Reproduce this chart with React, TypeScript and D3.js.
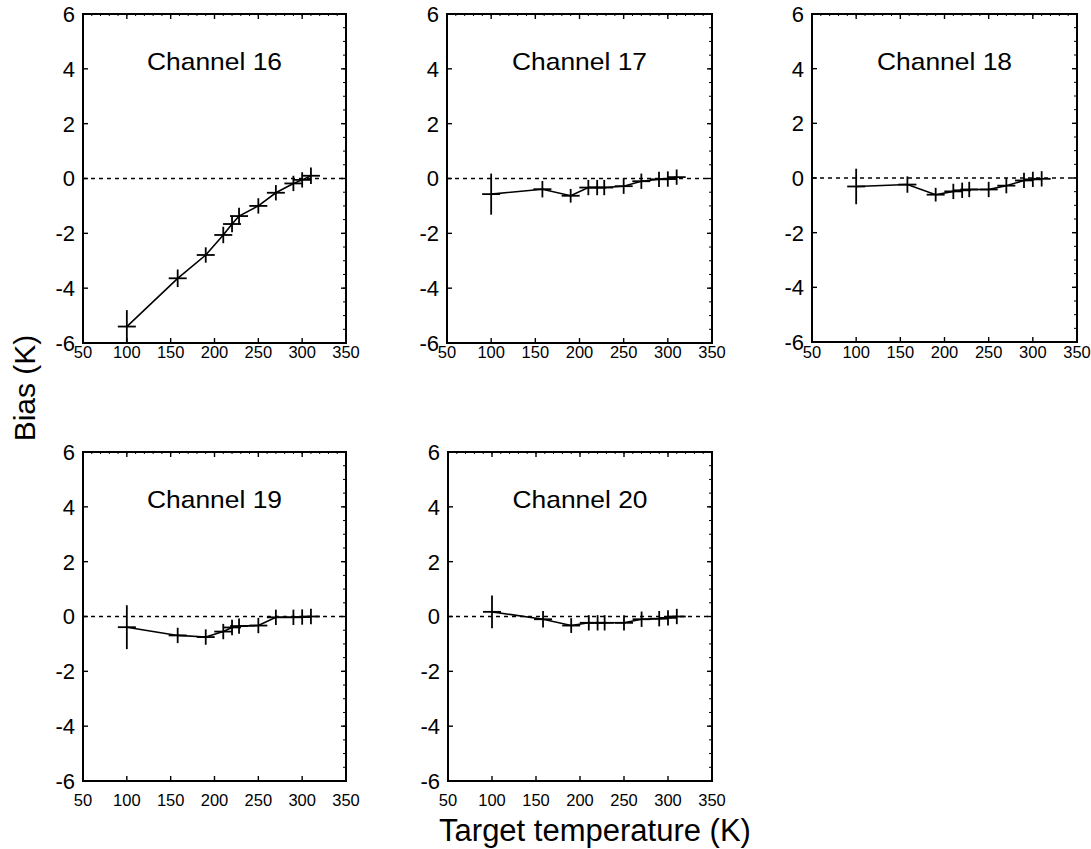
import React from "react";
import * as d3 from "d3";

// ---------- data ----------
const TEMPS = [100, 158, 190, 210, 220, 228, 250, 270, 290, 300, 310];
const CHANNELS = ["Channel 16", "Channel 17", "Channel 18", "Channel 19", "Channel 20"];
const BIAS_16 = [-5.4, -3.64, -2.79, -2.06, -1.66, -1.37, -1.0, -0.52, -0.18, -0.05, 0.1];
const ERR_16 = [0.6, 0.32, 0.28, 0.3, 0.3, 0.3, 0.28, 0.28, 0.28, 0.28, 0.3];
const BIAS_17 = [-0.57, -0.39, -0.63, -0.33, -0.33, -0.33, -0.28, -0.1, -0.03, -0.02, 0.05];
const ERR_17 = [0.75, 0.3, 0.25, 0.28, 0.28, 0.28, 0.28, 0.28, 0.28, 0.28, 0.28];
const BIAS_18 = [-0.31, -0.24, -0.61, -0.49, -0.45, -0.42, -0.42, -0.28, -0.09, -0.05, -0.03];
const ERR_18 = [0.65, 0.3, 0.25, 0.28, 0.28, 0.28, 0.28, 0.28, 0.28, 0.28, 0.28];
const BIAS_19 = [-0.39, -0.69, -0.75, -0.55, -0.4, -0.35, -0.33, -0.03, -0.03, -0.02, 0.0];
const ERR_19 = [0.8, 0.28, 0.28, 0.28, 0.28, 0.28, 0.28, 0.28, 0.28, 0.28, 0.28];
const BIAS_20 = [0.17, -0.1, -0.33, -0.23, -0.23, -0.23, -0.23, -0.1, -0.08, -0.05, 0.0];
const ERR_20 = [0.6, 0.3, 0.27, 0.28, 0.28, 0.28, 0.28, 0.28, 0.28, 0.28, 0.28];
const X_TICKS = [50, 100, 150, 200, 250, 300, 350];
const Y_TICKS = [-6, -4, -2, 0, 2, 4, 6];
const X_DOMAIN = [50, 350];
const Y_DOMAIN = [-6, 6];
const Y_LABEL = "Bias (K)";
const X_LABEL = "Target temperature (K)";

const SERIES = [
  { bias: BIAS_16, err: ERR_16 },
  { bias: BIAS_17, err: ERR_17 },
  { bias: BIAS_18, err: ERR_18 },
  { bias: BIAS_19, err: ERR_19 },
  { bias: BIAS_20, err: ERR_20 },
];

// ---------- layout ----------
const PANELS = [
  { x0: 83, x1: 346, y0: 14, y1: 343, tickLabelY: 358 },
  { x0: 447, x1: 712, y0: 14, y1: 343, tickLabelY: 358 },
  { x0: 812, x1: 1077, y0: 14, y1: 342, tickLabelY: 358 },
  { x0: 83, x1: 346, y0: 452, y1: 781, tickLabelY: 806 },
  { x0: 448, x1: 712, y0: 452, y1: 781, tickLabelY: 806 },
];
const FONT = "'Liberation Sans', Arial, Helvetica, sans-serif";
const CROSS_HALF = 9;

function Panel({ idx }: { idx: number }) {
  const p = PANELS[idx];
  const s = SERIES[idx];
  const x = d3.scaleLinear().domain(X_DOMAIN).range([p.x0, p.x1]);
  const y = d3.scaleLinear().domain(Y_DOMAIN).range([p.y1, p.y0]);
  const pts = TEMPS.map((t, i) => ({ t, b: s.bias[i], e: s.err[i] }));
  const line = d3
    .line<{ t: number; b: number }>()
    .x((d) => x(d.t))
    .y((d) => y(d.b));
  const clipId = `clip-${idx}`;
  const minorX = d3.range(X_DOMAIN[0], X_DOMAIN[1] + 0.001, 10);
  const minorY = d3.range(Y_DOMAIN[0], Y_DOMAIN[1] + 0.001, 0.5);
  const cx = (p.x0 + p.x1) / 2;
  const ty = p.y0 + 56;
  return (
    <g>
      <defs>
        <clipPath id={clipId}>
          <rect x={p.x0} y={p.y0} width={p.x1 - p.x0} height={p.y1 - p.y0} />
        </clipPath>
      </defs>
      {/* zero line */}
      <line
        x1={x(X_DOMAIN[0])}
        x2={x(X_DOMAIN[1])}
        y1={y(0)}
        y2={y(0)}
        stroke="#000"
        strokeWidth={1.4}
        strokeDasharray="4,4"
      />
      <g clipPath={`url(#${clipId})`}>
        <path d={line(pts) || ""} fill="none" stroke="#000" strokeWidth={1.6} />
        {pts.map((d, i) => (
          <g key={i} stroke="#000" strokeWidth={1.8}>
            <line x1={x(d.t) - CROSS_HALF} x2={x(d.t) + CROSS_HALF} y1={y(d.b)} y2={y(d.b)} />
            <line x1={x(d.t)} x2={x(d.t)} y1={y(d.b - d.e)} y2={y(d.b + d.e)} />
          </g>
        ))}
      </g>
      {/* minor ticks */}
      {minorX.map((v) => (
        <line key={"mx" + v} x1={x(v)} x2={x(v)} y1={p.y0} y2={p.y0 + 2} stroke="#000" strokeWidth={1} />
      ))}
      {minorY.map((v) => (
        <line key={"my" + v} x1={p.x1} x2={p.x1 - 3} y1={y(v)} y2={y(v)} stroke="#000" strokeWidth={1} />
      ))}
      {/* major ticks */}
      {X_TICKS.map((v) => (
        <g key={"xt" + v}>
          <line x1={x(v)} x2={x(v)} y1={p.y1} y2={p.y1 - 5} stroke="#000" strokeWidth={1.4} />
          <line x1={x(v)} x2={x(v)} y1={p.y0} y2={p.y0 + 5} stroke="#000" strokeWidth={1.4} />
          <text
            x={x(v)}
            y={p.tickLabelY}
            textAnchor="middle"
            fontFamily={FONT}
            fontSize={16.5}
            fill="#000"
          >
            {v}
          </text>
        </g>
      ))}
      {Y_TICKS.map((v) => (
        <g key={"yt" + v}>
          <line x1={p.x0} x2={p.x0 + 5} y1={y(v)} y2={y(v)} stroke="#000" strokeWidth={1.4} />
          <line x1={p.x1} x2={p.x1 - 5} y1={y(v)} y2={y(v)} stroke="#000" strokeWidth={1.4} />
          <text
            x={p.x0 - 8}
            y={y(v)}
            dy="0.36em"
            textAnchor="end"
            fontFamily={FONT}
            fontSize={22}
            fill="#000"
          >
            {v}
          </text>
        </g>
      ))}
      {/* frame */}
      <rect
        x={p.x0}
        y={p.y0}
        width={p.x1 - p.x0}
        height={p.y1 - p.y0}
        fill="none"
        stroke="#000"
        strokeWidth={2}
      />
      <text
        transform={`translate(${cx},${ty}) scale(1.1,1)`}
        textAnchor="middle"
        fontFamily={FONT}
        fontSize={24}
        fill="#000"
      >
        {CHANNELS[idx]}
      </text>
    </g>
  );
}

export default function App() {
  return (
    <svg
      width={1091}
      height={849}
      style={{ position: "absolute", left: 0, top: 0, background: "#fff" }}
    >
      <rect x={0} y={0} width={1091} height={849} fill="#fff" />
      {PANELS.map((_, i) => (
        <Panel key={i} idx={i} />
      ))}
      <text
        transform="translate(35,388) rotate(-90)"
        textAnchor="middle"
        fontFamily={FONT}
        fontSize={30}
        fill="#000"
      >
        {Y_LABEL}
      </text>
      <text x={595} y={841} textAnchor="middle" fontFamily={FONT} fontSize={31} fill="#000">
        {X_LABEL}
      </text>
    </svg>
  );
}
